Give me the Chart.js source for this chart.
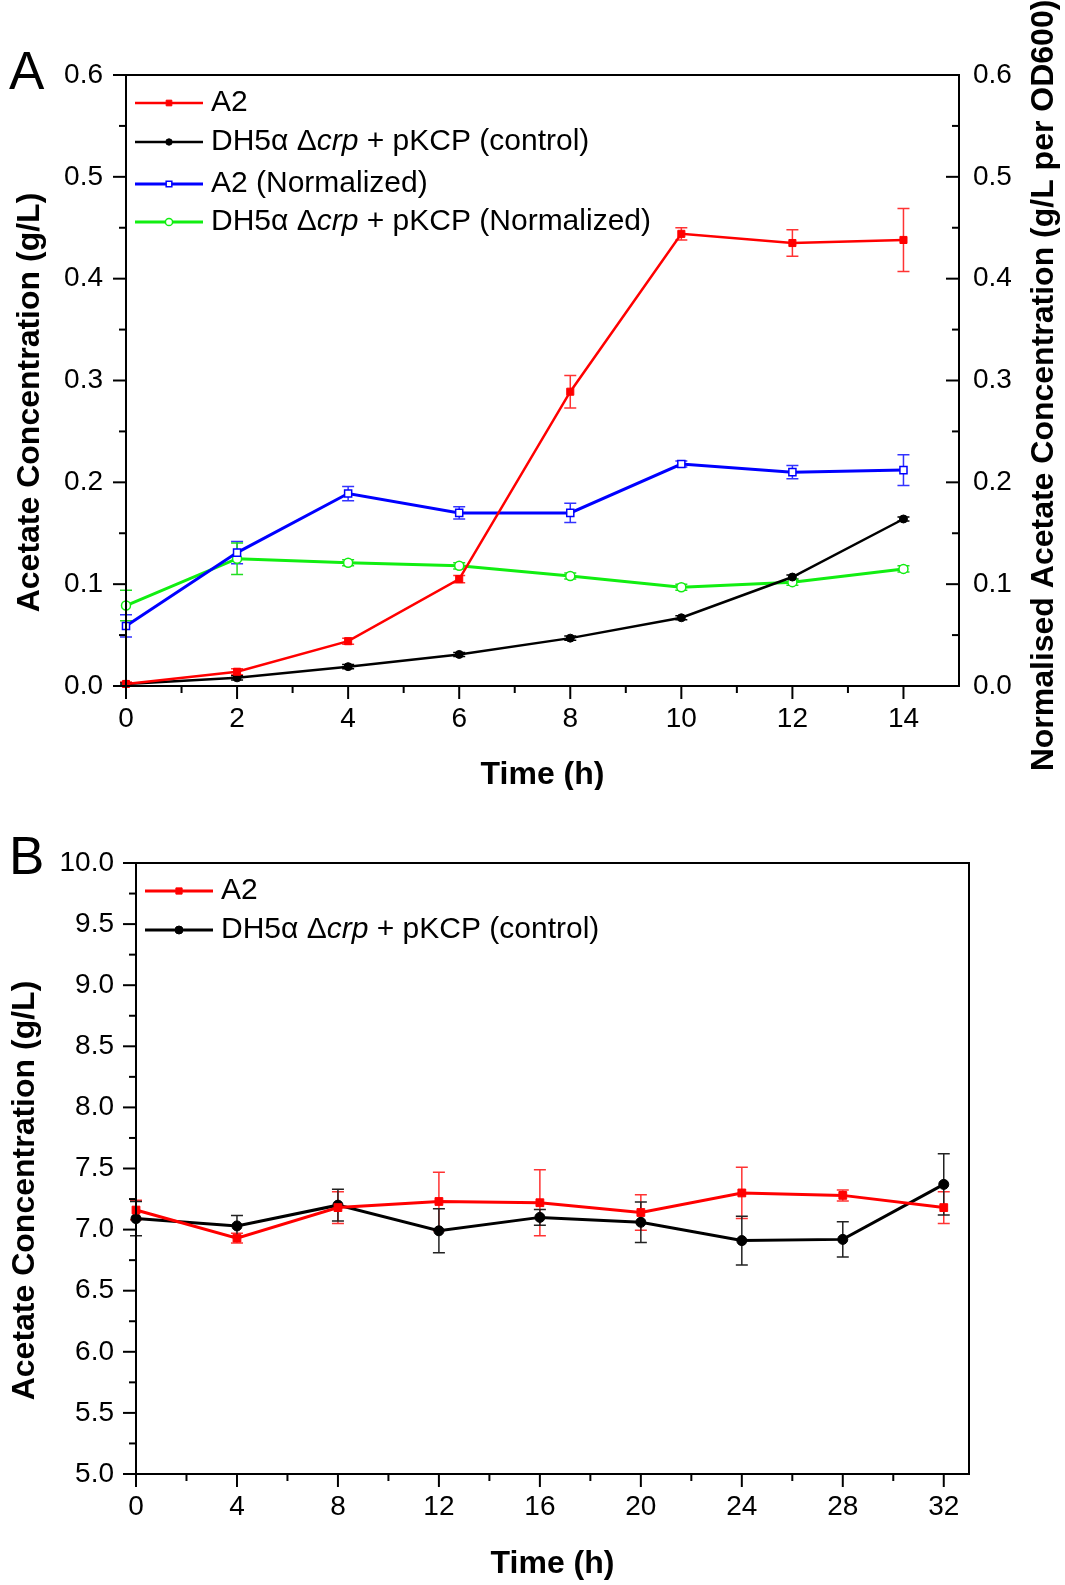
<!DOCTYPE html>
<html>
<head>
<meta charset="utf-8">
<script src="https://cdn.jsdelivr.net/npm/chart.js@4.4.1/dist/chart.umd.min.js"></script>
<style>
  html, body { margin: 0; padding: 0; background: #fff; }
  #wrap { position: relative; width: 1065px; height: 1585px; overflow: hidden; }
  canvas { position: absolute; left: 0; }
  #chartA { top: 0; }
  #chartB { top: 790px; }
</style>
</head>
<body>
<div id="wrap">
  <canvas id="chartA" width="1065" height="790"></canvas>
  <canvas id="chartB" width="1065" height="795"></canvas>
</div>
<script>
/* ==========================================================================
   DATA
   ========================================================================== */
// Panel A - acetate over 14 h
const timeA = [0, 2, 4, 6, 8, 10, 12, 14];
const a2 = [0.002, 0.014, 0.044, 0.105, 0.289, 0.444, 0.435, 0.438];
const a2Err = [0.002, 0.003, 0.003, 0.0035, 0.016, 0.006, 0.013, 0.031];
const ctrl = [0.002, 0.008, 0.019, 0.031, 0.047, 0.067, 0.107, 0.164];
const ctrlErr = [0.001, 0.002, 0.002, 0.002, 0.002, 0.002, 0.002, 0.002];
const a2Norm = [0.059, 0.131, 0.189, 0.170, 0.170, 0.218, 0.210, 0.212];
const a2NormErr = [0.011, 0.011, 0.007, 0.006, 0.0095, 0.003, 0.0065, 0.015];
const ctrlNorm = [0.079, 0.125, 0.121, 0.118, 0.108, 0.097, 0.102, 0.115];
const ctrlNormErr = [0.015, 0.0155, 0.003, 0.003, 0.003, 0.003, 0.003, 0.003];
const xLabelsA = [0, 2, 4, 6, 8, 10, 12, 14];
const yLabelsA = [0, 0.1, 0.2, 0.3, 0.4, 0.5, 0.6];

// Panel B - acetate over 32 h
const timeB = [0, 4, 8, 12, 16, 20, 24, 28, 32];
const a2B = [7.16, 6.93, 7.18, 7.23, 7.22, 7.14, 7.30, 7.28, 7.18];
const a2BErr = [0.08, 0.04, 0.13, 0.24, 0.27, 0.145, 0.21, 0.045, 0.13];
const ctrlB = [7.09, 7.03, 7.20, 6.99, 7.10, 7.06, 6.91, 6.92, 7.37];
const ctrlBErr = [0.14, 0.085, 0.13, 0.18, 0.065, 0.165, 0.20, 0.145, 0.25];
const xLabelsB = [0, 4, 8, 12, 16, 20, 24, 28, 32];
const yLabelsB = [5, 5.5, 6, 6.5, 7, 7.5, 8, 8.5, 9, 9.5, 10];

const FONT = "'Liberation Sans', Arial, sans-serif";
Chart.defaults.font.family = FONT;
Chart.defaults.color = '#000';

const pts = (xs, ys) => xs.map((x, i) => ({ x: x, y: ys[i] }));
const isLabel = (list, v) => list.some(l => Math.abs(l - v) < 1e-6);

/* ==========================================================================
   PLUGINS
   ========================================================================== */
// Error bars, drawn under the lines
const errorBars = {
    id: 'errorBars',
    beforeDatasetsDraw(chart) {
        const ctx = chart.ctx;
        ctx.save();
        chart.data.datasets.forEach((ds, i) => {
            if (!ds.errors) return;
            const meta = chart.getDatasetMeta(i);
            const xs = chart.scales[meta.xAxisID];
            const ys = chart.scales[meta.yAxisID];
            ctx.strokeStyle = ds.errorColor || ds.borderColor;
            ctx.lineWidth = 1.5;
            ds.data.forEach((p, k) => {
                const e = ds.errors[k];
                const x = xs.getPixelForValue(p.x);
                const t = ys.getPixelForValue(p.y + e);
                const b = ys.getPixelForValue(p.y - e);
                ctx.beginPath();
                ctx.moveTo(x, t); ctx.lineTo(x, b);
                ctx.moveTo(x - 6, t); ctx.lineTo(x + 6, t);
                ctx.moveTo(x - 6, b); ctx.lineTo(x + 6, b);
                ctx.stroke();
            });
        });
        ctx.restore();
    }
};

// Plot frame plus major/minor tick marks
const frameTicks = {
    id: 'frameTicks',
    afterDatasetsDraw(chart, args, opts) {
        const ctx = chart.ctx;
        const a = chart.chartArea;
        ctx.save();
        ctx.strokeStyle = '#000';
        ctx.lineWidth = 2;
        ctx.strokeRect(a.left, a.top, a.right - a.left, a.bottom - a.top);
        Object.values(chart.scales).forEach(s => {
            const labels = opts.labels[s.id];
            const dir = opts.dir[s.id];
            s.ticks.forEach(t => {
                if (t.value === s.max && !isLabel(labels, t.value)) return;
                const len = isLabel(labels, t.value) ? 13 : 7;
                const p = s.getPixelForValue(t.value);
                ctx.beginPath();
                if (s.axis === 'x') {
                    ctx.moveTo(p, a.bottom); ctx.lineTo(p, a.bottom + len);
                } else if (s.position === 'left') {
                    ctx.moveTo(a.left, p); ctx.lineTo(a.left - len, p);
                } else {
                    ctx.moveTo(a.right, p); ctx.lineTo(a.right + dir * len, p);
                }
                ctx.stroke();
            });
        });
        ctx.restore();
    }
};

// Legend inside the plot area, with italic "crp"
const insetLegend = {
    id: 'insetLegend',
    afterDraw(chart, args, opts) {
        const ctx = chart.ctx;
        const a = chart.chartArea;
        ctx.save();
        ctx.textBaseline = 'middle';
        ctx.textAlign = 'left';
        chart.data.datasets.forEach((ds, i) => {
            const y = a.top + opts.rows[i];
            const x0 = a.left + 9, x1 = a.left + 77;
            ctx.strokeStyle = ds.borderColor;
            ctx.lineWidth = ds.borderWidth;
            ctx.beginPath(); ctx.moveTo(x0, y); ctx.lineTo(x1, y); ctx.stroke();
            ctx.fillStyle = ds.pointBackgroundColor;
            ctx.strokeStyle = ds.pointBorderColor;
            ctx.lineWidth = ds.pointBorderWidth || 1;
            Chart.helpers.drawPoint(ctx, {
                pointStyle: ds.pointStyle, radius: ds.pointRadius * 0.8,
                borderWidth: ds.pointBorderWidth || 1, rotation: 0
            }, (x0 + x1) / 2, y);
            ctx.fillStyle = '#000';
            let tx = a.left + 85;
            const parts = ds.label.split('crp');
            parts.forEach((part, k) => {
                ctx.font = `30px ${FONT}`;
                ctx.fillText(part, tx, y);
                tx += ctx.measureText(part).width;
                if (k < parts.length - 1) {
                    ctx.font = `italic 30px ${FONT}`;
                    ctx.fillText('crp', tx, y);
                    tx += ctx.measureText('crp').width;
                }
            });
        });
        ctx.restore();
    }
};

// Axis titles and panel letter
const axisTitles = {
    id: 'axisTitles',
    afterDraw(chart, args, opts) {
        const ctx = chart.ctx;
        const a = chart.chartArea;
        const midY = (a.top + a.bottom) / 2;
        ctx.save();
        ctx.fillStyle = '#000';
        ctx.textAlign = 'center';
        ctx.textBaseline = 'middle';
        ctx.font = `bold 32px ${FONT}`;
        (opts.vertical || []).forEach(t => {
            ctx.save();
            ctx.translate(t.x, midY + t.dy);
            ctx.rotate(-Math.PI / 2);
            ctx.fillText(t.text, 0, 0);
            ctx.restore();
        });
        ctx.fillText(opts.bottom.text, (a.left + a.right) / 2, opts.bottom.y);
        ctx.textAlign = 'left';
        ctx.textBaseline = 'alphabetic';
        ctx.font = `53px ${FONT}`;
        ctx.fillText(opts.letter.text, opts.letter.x, opts.letter.y);
        ctx.restore();
    }
};

const tickFont = { size: 28, family: FONT };

function yAxis(min, max, step, labels, pos, width, pad) {
    return {
        type: 'linear', position: pos, min: min, max: max,
        grid: { display: false, drawTicks: false },
        border: { display: false },
        ticks: {
            stepSize: step, autoSkip: false, padding: pad, font: tickFont, color: '#000',
            callback: v => isLabel(labels, v) ? v.toFixed(1) : ''
        },
        afterFit: s => { s.width = width; }
    };
}

// x ticks every `step` up to the last labelled value (minor ticks in between)
function xAxis(max, step, labels, height) {
    const last = labels[labels.length - 1];
    return {
        type: 'linear', min: 0, max: max,
        grid: { display: false, drawTicks: false },
        border: { display: false },
        ticks: {
            autoSkip: false, maxRotation: 0, padding: 16, font: tickFont, color: '#000',
            callback: v => isLabel(labels, v) ? v : ''
        },
        afterBuildTicks: s => {
            const out = [];
            for (let v = 0; v <= last; v += step) out.push({ value: v });
            s.ticks = out;
        },
        afterFit: s => { s.height = height; }
    };
}

/* ==========================================================================
   PANEL A
   ========================================================================== */
new Chart(document.getElementById('chartA'), {
    type: 'line',
    data: {
        datasets: [
            { label: 'A2', data: pts(timeA, a2), errors: a2Err, yAxisID: 'y',
              borderColor: '#ff0000', errorColor: '#ff3333', borderWidth: 2.5,
              pointStyle: 'rect', pointRadius: 5, pointBackgroundColor: '#ff0000', pointBorderColor: '#ff0000', pointBorderWidth: 1 },
            { label: 'DH5α Δcrp + pKCP (control)', data: pts(timeA, ctrl), errors: ctrlErr, yAxisID: 'y',
              borderColor: '#000000', borderWidth: 2.5,
              pointStyle: 'circle', pointRadius: 4, pointBackgroundColor: '#000', pointBorderColor: '#000', pointBorderWidth: 1 },
            { label: 'A2 (Normalized)', data: pts(timeA, a2Norm), errors: a2NormErr, yAxisID: 'y2',
              borderColor: '#0000ff', errorColor: '#3333ff', borderWidth: 3,
              pointStyle: 'rect', pointRadius: 5, pointBackgroundColor: '#fff', pointBorderColor: '#0000ff', pointBorderWidth: 1.5 },
            { label: 'DH5α Δcrp + pKCP (Normalized)', data: pts(timeA, ctrlNorm), errors: ctrlNormErr, yAxisID: 'y2',
              borderColor: '#11ee11', errorColor: '#22dd22', borderWidth: 3,
              pointStyle: 'circle', pointRadius: 4.5, pointBackgroundColor: '#fff', pointBorderColor: '#11ee11', pointBorderWidth: 1.5 }
        ]
    },
    options: {
        responsive: false,
        animation: false,
        layout: { padding: { top: 75, left: 0, right: 0, bottom: 0 } },
        datasets: { line: { clip: false, tension: 0 } },
        plugins: {
            legend: { display: false },
            tooltip: { enabled: false },
            insetLegend: { rows: [28, 67, 109, 147] },
            frameTicks: {
                labels: { x: xLabelsA, y: yLabelsA, y2: yLabelsA },
                dir: { y2: -1 }
            },
            axisTitles: {
                vertical: [
                    { text: 'Acetate Concentration (g/L)', x: 30, dy: 22 },
                    { text: 'Normalised Acetate Concentration (g/L per OD600)', x: 1044, dy: 5 }
                ],
                bottom: { text: 'Time (h)', y: 775 },
                letter: { text: 'A', x: 9, y: 89 }
            }
        },
        scales: {
            x: xAxis(15, 1, xLabelsA, 104),
            y: yAxis(0, 0.6, 0.05, yLabelsA, 'left', 126, 23),
            y2: yAxis(0, 0.6, 0.05, yLabelsA, 'right', 106, 14)
        }
    },
    plugins: [errorBars, frameTicks, insetLegend, axisTitles]
});

/* ==========================================================================
   PANEL B
   ========================================================================== */
new Chart(document.getElementById('chartB'), {
    type: 'line',
    data: {
        datasets: [
            { label: 'A2', data: pts(timeB, a2B), errors: a2BErr, yAxisID: 'y',
              borderColor: '#ff0000', errorColor: '#ff3333', borderWidth: 3,
              pointStyle: 'rect', pointRadius: 5.5, pointBackgroundColor: '#ff0000', pointBorderColor: '#ff0000', pointBorderWidth: 1 },
            { label: 'DH5α Δcrp + pKCP (control)', data: pts(timeB, ctrlB), errors: ctrlBErr, yAxisID: 'y',
              borderColor: '#000000', errorColor: '#222', borderWidth: 3,
              pointStyle: 'circle', pointRadius: 5, pointBackgroundColor: '#000', pointBorderColor: '#000', pointBorderWidth: 1 }
        ]
    },
    options: {
        responsive: false,
        animation: false,
        layout: { padding: { top: 73, left: 0, right: 96, bottom: 0 } },
        datasets: { line: { clip: false, tension: 0 } },
        plugins: {
            legend: { display: false },
            tooltip: { enabled: false },
            insetLegend: { rows: [28, 67] },
            frameTicks: {
                labels: { x: xLabelsB, y: yLabelsB },
                dir: {}
            },
            axisTitles: {
                vertical: [
                    { text: 'Acetate Concentration (g/L)', x: 25, dy: 22 }
                ],
                bottom: { text: 'Time (h)', y: 774 },
                letter: { text: 'B', x: 9, y: 84 }
            }
        },
        scales: {
            x: xAxis(33, 2, xLabelsB, 111),
            y: yAxis(5, 10, 0.25, yLabelsB, 'left', 136, 22)
        }
    },
    plugins: [errorBars, frameTicks, insetLegend, axisTitles]
});
</script>
</body>
</html>
